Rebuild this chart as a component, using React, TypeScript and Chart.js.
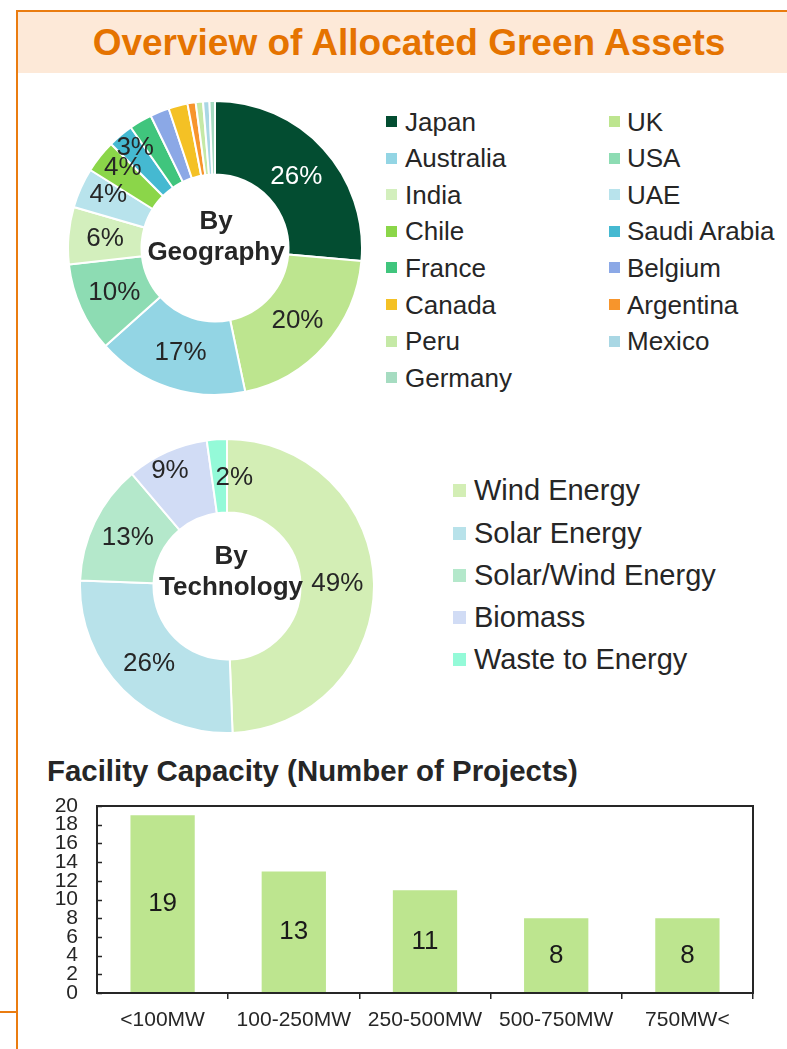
import React, { useEffect, useRef } from 'react';
import { Chart, registerables } from 'chart.js';

Chart.register(...registerables);

const FONT = "'Liberation Sans', Arial, Helvetica, sans-serif";
const TEXT = '#262626';

// ---- Data ----
const GEO_LABELS = ['Japan', 'UK', 'Australia', 'USA', 'India', 'UAE', 'Chile', 'Saudi Arabia', 'France', 'Belgium', 'Canada', 'Argentina', 'Peru', 'Mexico', 'Germany'];
const GEO_VALUES = [26.4, 20.3, 16.7, 9.8, 6.3, 4.4, 3.6, 2.8, 2.5, 2.1, 2.1, 0.9, 0.8, 0.7, 0.6];
const GEO_COLORS = ['#034d31', '#bde58f', '#93d5e4', '#8ddcb3', '#d3efbd', '#b8e3ec', '#8bd649', '#45b9d1', '#40c57d', '#8ba8e6', '#f4c125', '#f7952c', '#c5e9a6', '#a9d7e4', '#a6dcc1'];

const TECH_LABELS = ['Wind Energy', 'Solar Energy', 'Solar/Wind Energy', 'Biomass', 'Waste to Energy'];
const TECH_VALUES = [49.4, 26.2, 13.2, 9.0, 2.2];
const TECH_COLORS = ['#d3eeb5', '#b8e2ea', '#b4e8cb', '#d1dcf5', '#94fad8'];

const CAP_LABELS = ['<100MW', '100-250MW', '250-500MW', '500-750MW', '750MW<'];
const CAP_VALUES = [19, 13, 11, 8, 8];
const CAP_Y_MIN = 0;
const CAP_Y_MAX = 20;
const CAP_Y_STEP = 2;

// ---- Label styling (nudges in px for crowded labels) ----
const GEO_NUDGE: Record<number, [number, number]> = { 0: [0, 3], 5: [-6, -8], 6: [-6, -12], 7: [-9, -16] };
const GEO_LABEL_COLORS: Record<number, string> = { 0: '#ffffff' };
const TECH_NUDGE: Record<number, [number, number]> = { 3: [-12, -15], 4: [15, 2] };

const donutLabelPlugin = {
  id: 'donutLabels',
  afterDatasetsDraw(chart: any, _args: any, opts: any) {
    const { ctx } = chart;
    const meta = chart.getDatasetMeta(0);
    const data = chart.data.datasets[0].data as number[];
    const total = data.reduce((a, b) => a + b, 0);
    ctx.save();
    ctx.textAlign = 'center';
    ctx.textBaseline = 'middle';
    ctx.font = `26px ${FONT}`;
    meta.data.forEach((arc: any, i: number) => {
      const pct = (data[i] / total) * 100;
      if (pct < opts.minPct) return;
      const p = arc.getCenterPoint();
      const n = (opts.nudge && opts.nudge[i]) || [0, 0];
      ctx.fillStyle = (opts.colors && opts.colors[i]) || TEXT;
      ctx.fillText(Math.round(pct) + '%', p.x + n[0], p.y + n[1]);
    });
    const a0 = meta.data[0];
    if (a0) {
      ctx.font = `bold 26px ${FONT}`;
      ctx.fillStyle = TEXT;
      (opts.center as string[]).forEach((line, k) => {
        ctx.fillText(line, a0.x + opts.centerDx, a0.y + opts.centerDy + k * 31);
      });
    }
    ctx.restore();
  },
};

const barExtrasPlugin = {
  id: 'barExtras',
  afterDatasetsDraw(chart: any) {
    const { ctx, chartArea: a, scales } = chart;
    const y = scales.y;
    ctx.save();
    ctx.strokeStyle = TEXT;
    ctx.lineWidth = 2;
    ctx.strokeRect(a.left, a.top, a.right - a.left, a.bottom - a.top);
    ctx.lineWidth = 1.5;
    y.ticks.forEach((t: any) => {
      const py = Math.round(y.getPixelForValue(t.value)) + 0.5;
      ctx.beginPath();
      ctx.moveTo(a.left, py);
      ctx.lineTo(a.left + 5, py);
      ctx.stroke();
    });
    const meta = chart.getDatasetMeta(0);
    const data = chart.data.datasets[0].data as number[];
    ctx.font = `26px ${FONT}`;
    ctx.fillStyle = '#1a1a1a';
    ctx.textAlign = 'center';
    ctx.textBaseline = 'middle';
    meta.data.forEach((bar: any, i: number) => {
      ctx.fillText(String(data[i]), bar.x, (bar.y + bar.base) / 2);
    });
    ctx.restore();
  },
};

function donutConfig(labels: string[], values: number[], colors: string[], pluginOpts: any): any {
  return {
    type: 'doughnut',
    data: {
      labels,
      datasets: [{ data: values, backgroundColor: colors, borderColor: '#ffffff', borderWidth: 2, hoverOffset: 0 }],
    },
    options: {
      responsive: false,
      animation: false,
      cutout: '50%',
      layout: { padding: 0 },
      plugins: { legend: { display: false }, tooltip: { enabled: false }, donutLabels: pluginOpts },
      events: [],
    },
    plugins: [donutLabelPlugin],
  };
}

export default function App() {
  const geoRef = useRef<HTMLCanvasElement>(null);
  const techRef = useRef<HTMLCanvasElement>(null);
  const barRef = useRef<HTMLCanvasElement>(null);

  useEffect(() => {
    const geo = new Chart(
      geoRef.current!,
      donutConfig(GEO_LABELS, GEO_VALUES, GEO_COLORS, {
        minPct: 2.75,
        nudge: GEO_NUDGE,
        colors: GEO_LABEL_COLORS,
        center: ['By', 'Geography'],
        centerDx: 1,
        centerDy: -26,
      })
    );
    const tech = new Chart(
      techRef.current!,
      donutConfig(TECH_LABELS, TECH_VALUES, TECH_COLORS, {
        minPct: 0,
        nudge: TECH_NUDGE,
        colors: {},
        center: ['By', 'Technology'],
        centerDx: 4,
        centerDy: -29,
      })
    );
    const bar = new Chart(barRef.current!, {
      type: 'bar',
      data: {
        labels: CAP_LABELS,
        datasets: [{ data: CAP_VALUES, backgroundColor: '#bde58f', barPercentage: 0.49, categoryPercentage: 1 }],
      },
      options: {
        responsive: false,
        animation: false,
        events: [],
        layout: { padding: { left: 0, right: 34, top: 11, bottom: 0 } },
        plugins: { legend: { display: false }, tooltip: { enabled: false } },
        scales: {
          x: {
            border: { display: false },
            grid: {
              display: true,
              drawOnChartArea: false,
              drawTicks: true,
              tickLength: 6,
              offset: true,
              lineWidth: 1.5,
              color: (c: any) => (c.index === 0 || c.index === CAP_LABELS.length ? 'rgba(0,0,0,0)' : TEXT),
            },
            ticks: { color: TEXT, font: { family: FONT, size: 21 }, padding: 9, maxRotation: 0, autoSkip: false },
            afterFit: (s: any) => {
              s.height = 56;
              s.paddingLeft = 0;
              s.paddingRight = 0;
            },
          },
          y: {
            min: CAP_Y_MIN,
            max: CAP_Y_MAX,
            border: { display: false },
            grid: { display: false, drawTicks: false },
            ticks: { stepSize: CAP_Y_STEP, color: TEXT, font: { family: FONT, size: 21, lineHeight: 1 }, padding: 19, autoSkip: false },
            afterFit: (s: any) => {
              s.width = 67;
              s.paddingTop = 0;
              s.paddingBottom = 0;
            },
          },
        },
      },
      plugins: [barExtrasPlugin],
    } as any);
    return () => {
      geo.destroy();
      tech.destroy();
      bar.destroy();
    };
  }, []);

  const abs = (s: React.CSSProperties): React.CSSProperties => ({ position: 'absolute', ...s });

  return (
    <div style={abs({ left: 0, top: 0, width: 787, height: 1049, overflow: 'hidden', background: '#ffffff', fontFamily: FONT, color: TEXT })}>
      {/* frame */}
      <div style={abs({ left: 18, top: 12, width: 769, height: 61, background: '#fde9d8' })} />
      <div style={abs({ left: 16, top: 10, width: 2, height: 1039, background: '#ea7c10' })} />
      <div style={abs({ left: 16, top: 10, width: 771, height: 2, background: '#ea7c10' })} />
      <div style={abs({ left: 0, top: 1011, width: 17, height: 2, background: '#ea7c10' })} />
      <div style={abs({ left: 18, top: 24, width: 782, textAlign: 'center', fontWeight: 'bold', fontSize: 37, lineHeight: '37px', color: '#e57300', whiteSpace: 'nowrap' })}>
        Overview of Allocated Green Assets
      </div>

      {/* geography donut */}
      <canvas ref={geoRef} width={296} height={296} style={abs({ left: 67, top: 100, width: 296, height: 296 })} />
      {GEO_LABELS.map((lab, i) => {
        const col = i % 2;
        const row = Math.floor(i / 2);
        const cy = 121.5 + row * 36.6;
        return (
          <div key={lab} style={abs({ left: col ? 609 : 386, top: cy - 13, height: 26, display: 'flex', alignItems: 'center', whiteSpace: 'nowrap', fontSize: 26, lineHeight: '26px' })}>
            <span style={{ display: 'inline-block', width: 11, height: 11, background: GEO_COLORS[i], marginRight: col ? 7 : 8 }} />
            <span>{lab}</span>
          </div>
        );
      })}

      {/* technology donut */}
      <canvas ref={techRef} width={296} height={296} style={abs({ left: 79, top: 438, width: 296, height: 296 })} />
      {TECH_LABELS.map((lab, i) => {
        const cy = 490.7 + i * 42.3;
        return (
          <div key={lab} style={abs({ left: 453, top: cy - 15, height: 30, display: 'flex', alignItems: 'center', whiteSpace: 'nowrap', fontSize: 29, lineHeight: '29px' })}>
            <span style={{ display: 'inline-block', width: 13, height: 13, background: TECH_COLORS[i], marginRight: 8 }} />
            <span>{lab}</span>
          </div>
        );
      })}

      {/* bar chart */}
      <div style={abs({ left: 47, top: 756, fontWeight: 'bold', fontSize: 29.4, lineHeight: '29px', whiteSpace: 'nowrap' })}>
        Facility Capacity (Number of Projects)
      </div>
      <canvas ref={barRef} width={757} height={254} style={abs({ left: 30, top: 795, width: 757, height: 254 })} />
    </div>
  );
}
